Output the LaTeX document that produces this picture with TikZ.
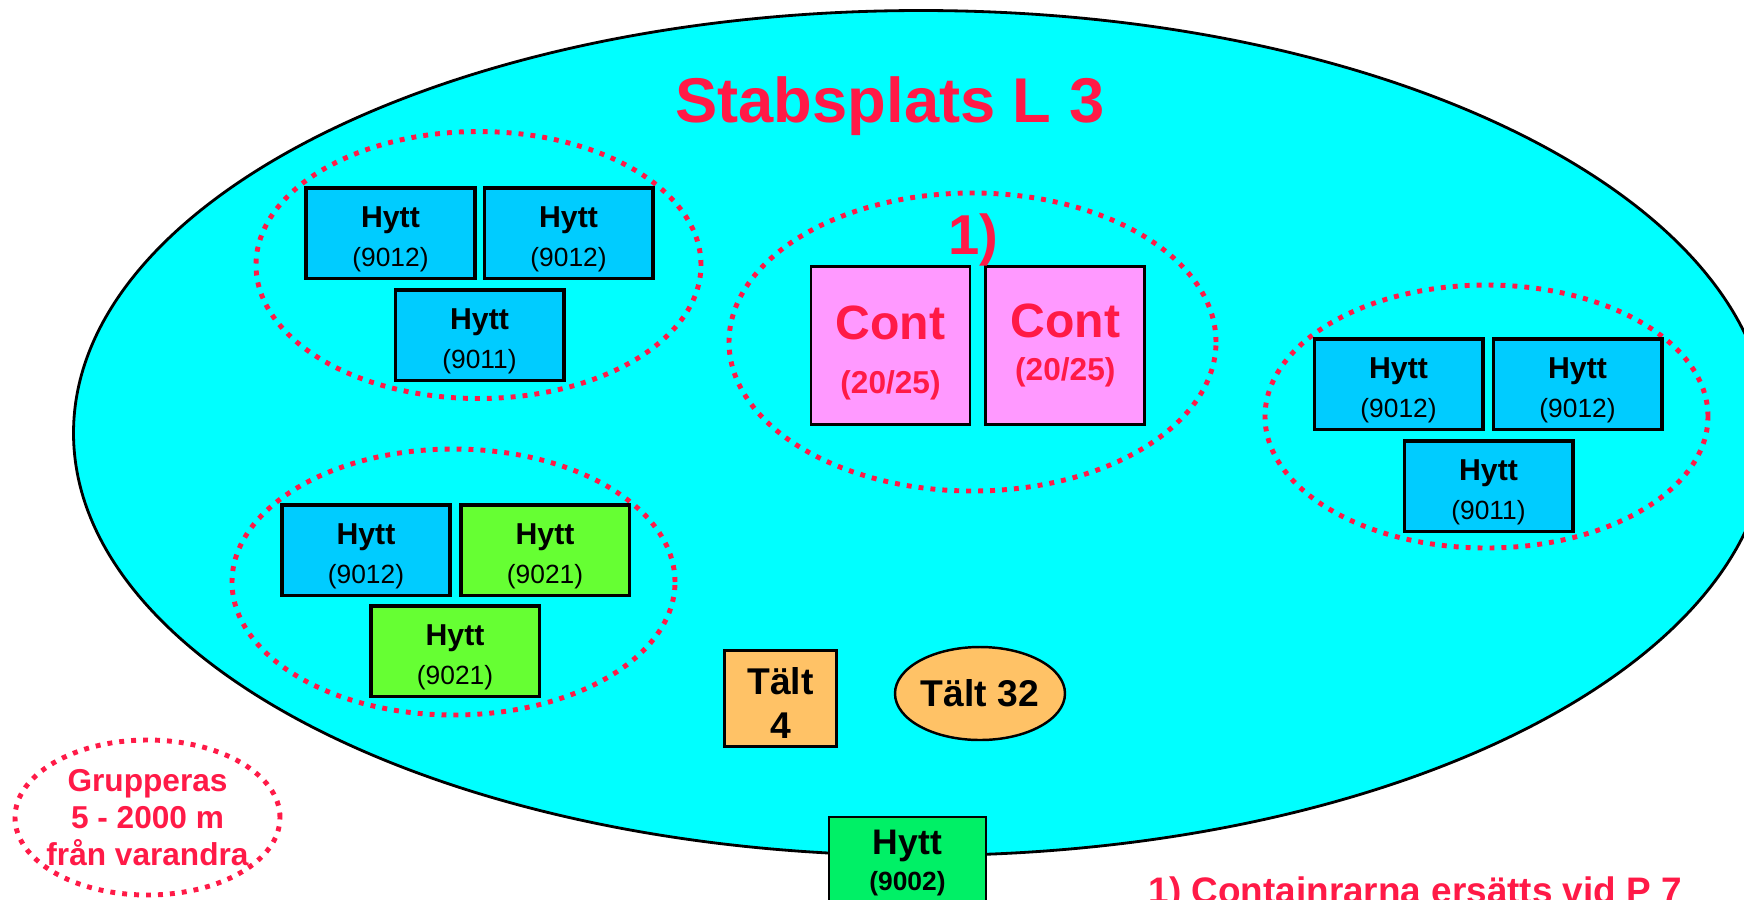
\documentclass[tikz,border=0pt]{standalone}
\usepackage{fontspec}
\setmainfont{Liberation Sans}
\usetikzlibrary{positioning, shapes.geometric}

\definecolor{platscyan}{HTML}{00FFFF}
\definecolor{hyttblue}{HTML}{00CCFF}
\definecolor{hyttgreen}{HTML}{66FF33}
\definecolor{hyttmint}{HTML}{00F066}
\definecolor{contpink}{HTML}{FF99FF}
\definecolor{taltorange}{HTML}{FFC266}
\definecolor{stabred}{HTML}{FF1A47}

\newcommand\hyttlab[1]{\rule{0pt}{9.6pt}\textbf{Hytt}\\{\fontsize{7.5}{9}\selectfont(#1)}}

\begin{document}
\begin{tikzpicture}[x=0.1mm, y=-0.1mm,
  hytt/.style={rectangle, draw, line width=1pt, fill=hyttblue, minimum width=16.85mm,
    minimum height=9.05mm, inner sep=0pt, align=center, font=\fontsize{8.6}{11}\selectfont},
  hyttg/.style={hytt, fill=hyttgreen},
  grp/.style={ellipse, draw=stabred, line width=1.4pt, dash pattern=on 1.4pt off 2pt, inner sep=0pt},
  cont/.style={rectangle, draw, line width=0.8pt, fill=contpink, minimum width=15.9mm,
    minimum height=15.8mm, inner sep=0pt, align=center, text=stabred, font=\fontsize{13.7}{12}\selectfont\bfseries},
  talt/.style={draw, line width=0.7pt, fill=taltorange, inner sep=0pt, align=center,
    font=\fontsize{10.6}{12.5}\selectfont\bfseries},
  redtext/.style={text=stabred, inner sep=0pt, align=center}]

  \useasboundingbox (0,0) rectangle (1744,899);
  \clip (0,0) rectangle (1744,899);

  % stabsplatsen
  \node[ellipse, draw, line width=0.8pt, fill=platscyan, minimum width=169.5mm, minimum height=84.5mm] (plats) at (921,433) {};
  \node[redtext, anchor=base, font=\fontsize{18}{20}\selectfont\bfseries] (titel) at (890,122) {Stabsplats L 3};

  % grupper
  \node[grp, minimum width=44.5mm, minimum height=26.7mm] (grpA) at (478.5,265) {};
  \node[grp, minimum width=48.7mm, minimum height=29.8mm] (grpB) at (972.5,342) {};
  \node[grp, minimum width=44.3mm, minimum height=26.3mm] (grpC) at (1486.5,416.5) {};
  \node[grp, minimum width=44.3mm, minimum height=26.6mm] (grpD) at (453.5,582) {};

  \node[hytt] (a1) at (390.5,233) {\hyttlab{9012}};
  \node[hytt, right=0.6mm of a1] (a2) {\hyttlab{9012}};
  \node[hytt, below=0.8mm of a1.south east, xshift=0.3mm] (a3) {\hyttlab{9011}};

  \node[hytt] (c1) at (1398.5,384) {\hyttlab{9012}};
  \node[hytt, right=0.7mm of c1] (c2) {\hyttlab{9012}};
  \node[hytt, below=0.8mm of c1.south east, xshift=0.4mm] (c3) {\hyttlab{9011}};

  \node[hytt] (d1) at (366,550) {\hyttlab{9012}};
  \node[hyttg, right=0.7mm of d1] (d2) {\hyttlab{9021}};
  \node[hyttg, below=0.7mm of d1.south east, xshift=0.3mm] (d3) {\hyttlab{9021}};

  % containrar
  \node[cont] (cont1) at (890.5,345.5) {\rule{0pt}{13.6pt}Cont\\[3.4pt]{\fontsize{9}{9}\selectfont(20/25)}};
  \node[cont, right=1.3mm of cont1] (cont2) {Cont\\{\fontsize{9}{9}\selectfont(20/25)}};
  \node[redtext, anchor=base, font=\fontsize{16}{18}\selectfont\bfseries] (fotnr) at (973,254) {1)};

  % talt
  \node[talt, minimum width=11.2mm, minimum height=9.6mm] (talt4) at (780.5,698.5) {\rule{0pt}{10.3pt}Tält\\4};
  \node[talt, ellipse, minimum width=17mm, minimum height=9.3mm] (talt32) at (980,693.5) {Tält 32};

  \node[rectangle, draw, line width=0.7pt, fill=hyttmint, minimum width=15.7mm, minimum height=9.2mm,
    inner sep=0pt, align=center, font=\fontsize{10.1}{10}\selectfont\bfseries] (hytt9002) at (907.5,863)
    {Hytt\\{\fontsize{7.5}{9}\selectfont(9002)}};

  % avstand
  \node[grp, minimum width=26.5mm, minimum height=15.5mm] (avst) at (147.5,817.5) {};
  \node[redtext, font=\fontsize{9}{10.5}\selectfont\bfseries] (avsttext) at (avst) {Grupperas\\5 - 2000 m\\från varandra};

  \node[redtext, anchor=base west, font=\fontsize{10.5}{12}\selectfont\bfseries] (fotnot) at (1148,903)
    {1) Containrarna ersätts vid P 7};
\end{tikzpicture}
\end{document}
